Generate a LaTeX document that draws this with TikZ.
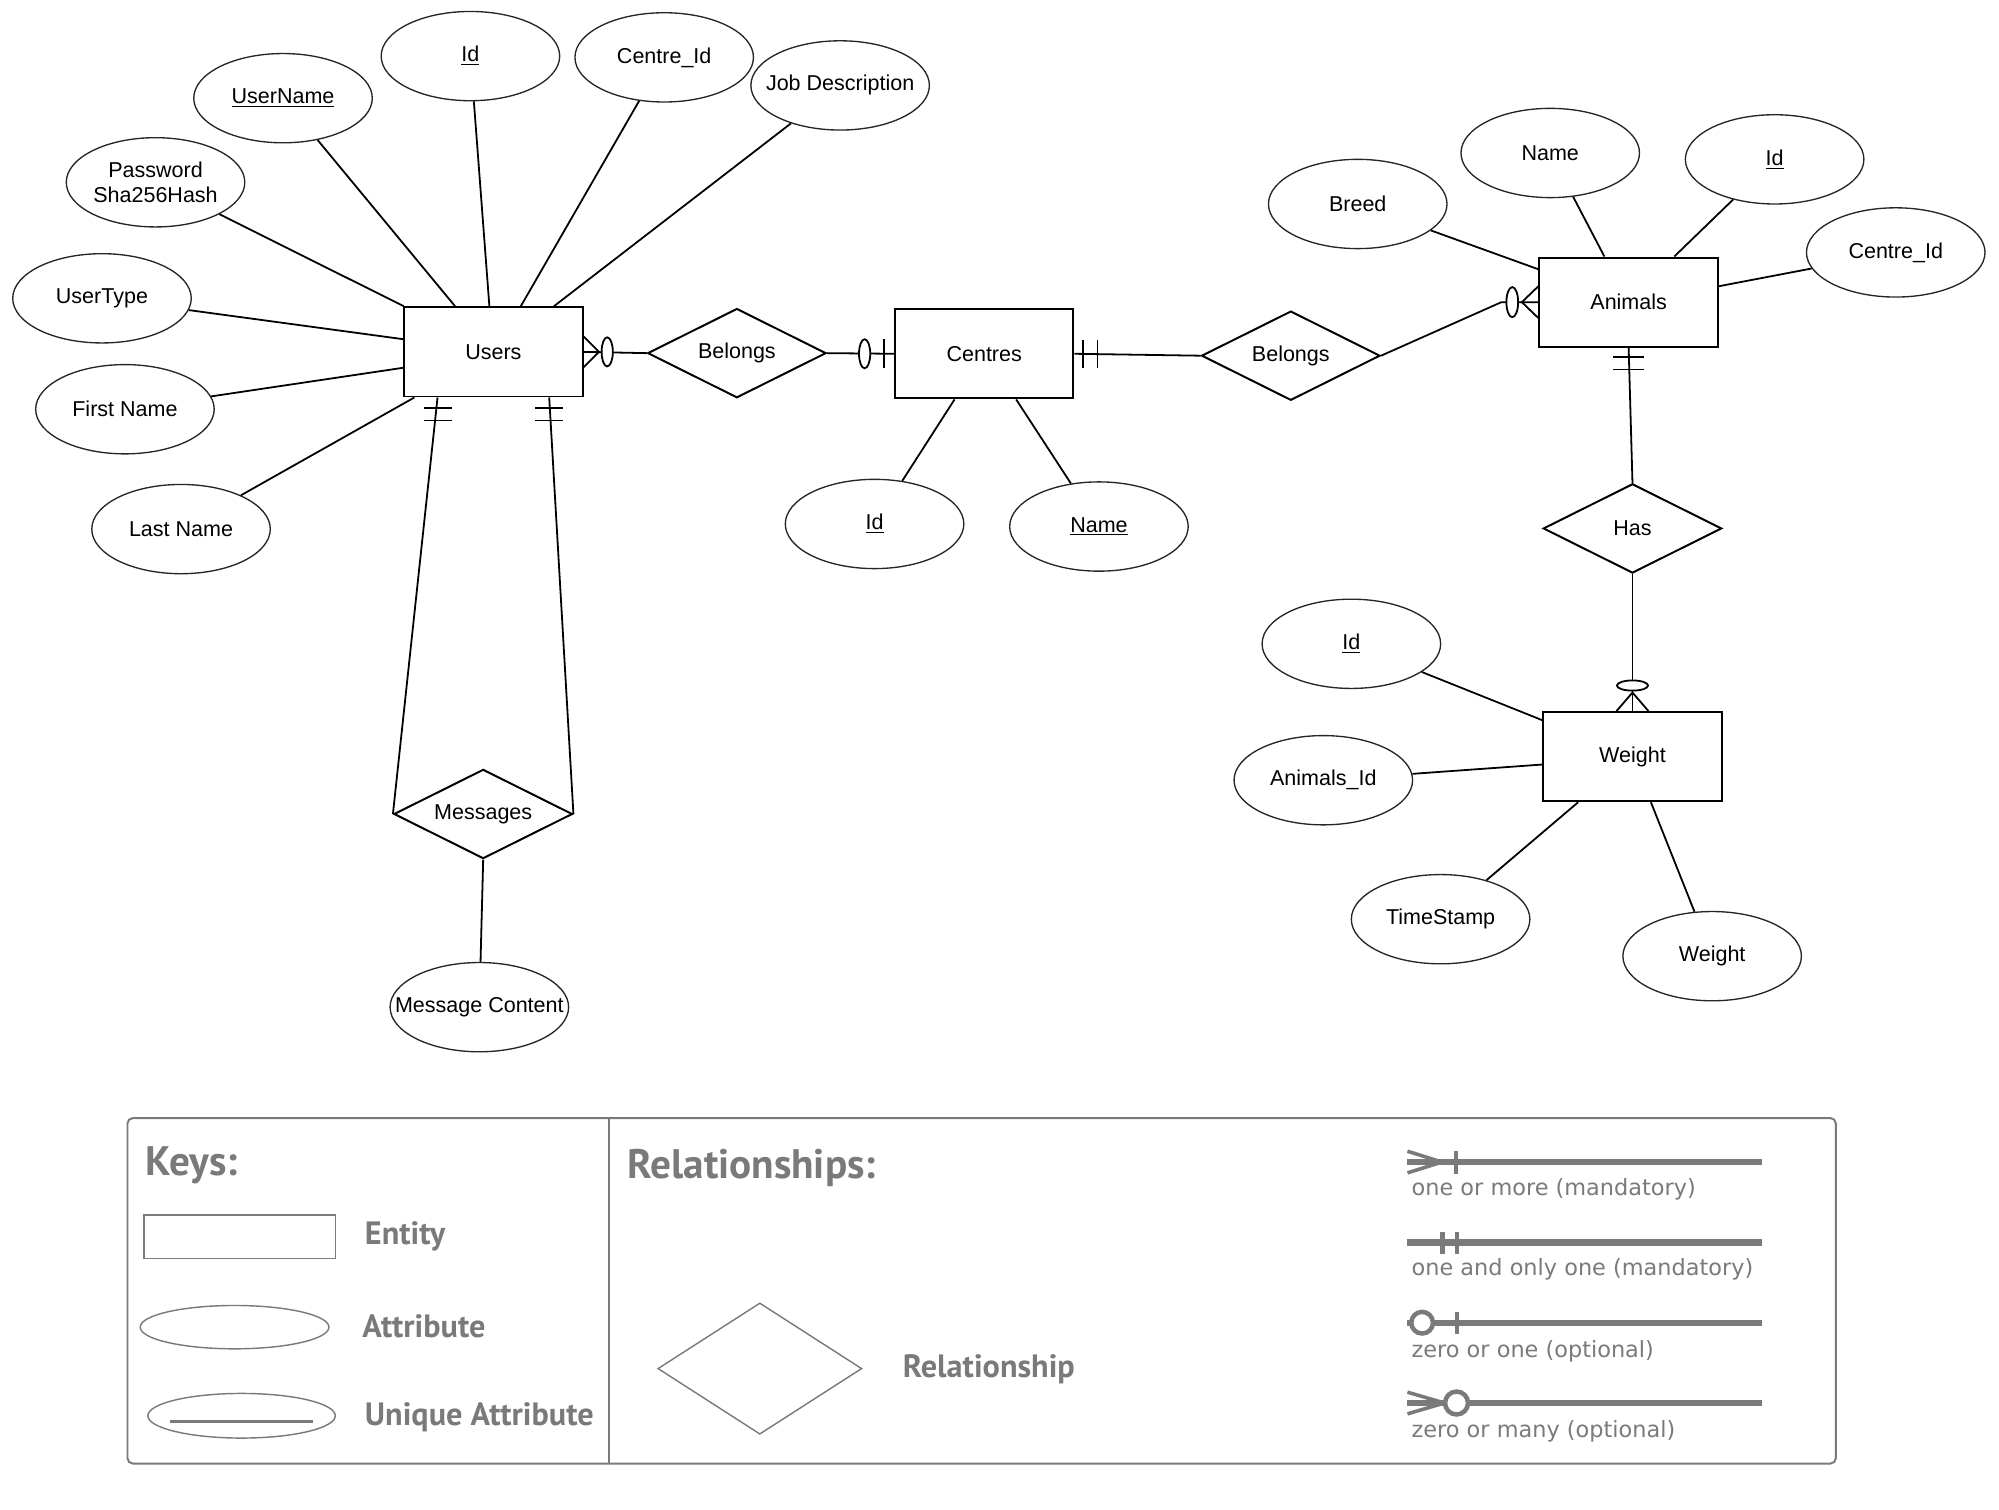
\documentclass[tikz,border=0pt]{standalone}
\usepackage{fontspec}
\setmainfont{Liberation Sans}
\newfontfamily\keyfont{PT Sans}
\newfontfamily\notefont{DejaVu Sans}
\usetikzlibrary{shapes.geometric}
\usetikzlibrary{calc}
\definecolor{leyenda}{RGB}{122,122,122}

\begin{document}
\begin{tikzpicture}[x=0.025cm, y=-0.025cm, every node/.style={font=\fontsize{12}{13.5}\selectfont},
    entidad/.style={draw, line width=1.1pt, minimum width=3.5cm, minimum height=1.75cm},
    atributo/.style={draw=black!85, ellipse, line width=0.75pt, minimum width=3.5cm, minimum height=1.75cm, inner xsep=-0.5cm, inner ysep=0pt, align=center},
    relacion/.style={draw, diamond, aspect=2, line width=1.1pt, minimum width=3.5cm, minimum height=1.75cm, inner sep=0pt},
    arista/.style={line width=1pt},
    ley/.style={text=leyenda, inner sep=0pt, anchor=west, font=\keyfont\bfseries\fontsize{18}{21}\selectfont},
    nota/.style={text=leyenda, inner sep=0pt, anchor=west, font=\notefont\fontsize{12.5}{14}\selectfont}]
    \useasboundingbox (0,0) rectangle (1568,1184);

    % Entidades
    \node[entidad] (usr) at (387,276) {Users};
    \node[entidad] (cen) at (772,277.5) {Centres};
    \node[entidad] (ani) at (1277.5,237) {Animals};
    \node[entidad] (wgt) at (1280.5,593.5) {Weight};

    % Relaciones
    \node[relacion] (bel1) at (578,277) {Belongs};
    \node[relacion] (bel2) at (1012.5,279) {Belongs};
    \node[relacion] (has) at (1280.5,414.5) {Has};
    \node[relacion] (msg) at (379,638.5) {Messages};

    % Atributos
    \node[atributo] (uid) at (369,44) {\underline{Id}};
    \node[atributo] (uname) at (222,77) {\underline{UserName}};
    \node[atributo] (ucid) at (521,45) {Centre\_Id};
    \node[atributo] (ujob) at (659,67) {Job Description};
    \node[atributo] (upass) at (122,143) {Password\\Sha256Hash};
    \node[atributo] (utype) at (80,234) {UserType};
    \node[atributo] (ufirst) at (98,321) {First Name};
    \node[atributo] (ulast) at (142,415) {Last Name};
    \node[atributo] (cid) at (686,411) {\underline{Id}};
    \node[atributo] (cname) at (862,413) {\underline{Name}};
    \node[atributo] (abreed) at (1065,160) {Breed};
    \node[atributo] (aname) at (1216,120) {Name};
    \node[atributo] (aid) at (1392,125) {\underline{Id}};
    \node[atributo] (acid) at (1487,198) {Centre\_Id};
    \node[atributo] (wid) at (1060,505) {\underline{Id}};
    \node[atributo] (waid) at (1038,612) {Animals\_Id};
    \node[atributo] (wtime) at (1130,721) {TimeStamp};
    \node[atributo] (wval) at (1343,750) {Weight};
    \node[atributo] (mtext) at (376,790) {Message Content};

    % Aristas de atributos
    \draw[arista] (uid) -- (usr.95);
    \draw[arista] (uname) -- (usr.130);
    \draw[arista] (ucid) -- (usr.59);
    \draw[arista] (ujob) -- (usr.37);
    \draw[arista] (upass) -- (usr.153);
    \draw[arista] (utype) -- (usr.172);
    \draw[arista] (ufirst) -- (usr.190);
    \draw[arista] (ulast) -- (usr.210);
    \draw[arista] (cid) -- (cen.237);
    \draw[arista] (cname) -- (cen.305);
    \draw[arista] (abreed) -- (ani.160);
    \draw[arista] (aname) -- (ani.118);
    \draw[arista] (aid) -- (ani.45);
    \draw[arista] (acid) -- (ani.10);
    \draw[arista] (wid) -- (wgt.158);
    \draw[arista] (waid) -- (wgt.185);
    \draw[arista] (wtime) -- (wgt.220);
    \draw[arista] (wval) -- (wgt.292);
    \draw[arista] (msg.south) -- (mtext);

    % Aristas de relaciones
    \draw[arista] (usr.east) -- (bel1.west);
    \draw[arista] ($(usr.east)+(0,-12)$) -- ($(usr.east)+(12,0)$) -- ($(usr.east)+(0,12)$);
    \draw[arista, fill=white] ($(usr.east)+(18.5,0)$) ellipse [x radius=0.11cm, y radius=0.285cm];
    \draw[arista] (bel1.east) -- (cen.west);
    \draw[arista, fill=white] ($(cen.west)+(-23,0)$) ellipse [x radius=0.11cm, y radius=0.285cm];
    \draw[arista] ($(cen.west)+(-8,-11.5)$) -- ($(cen.west)+(-8,11.5)$);
    \draw[arista] (cen.east) -- (bel2.west);
    \foreach \d in {7,18}
        \draw[arista] ($(cen.east)+(\d,-11)$) -- ($(cen.east)+(\d,11)$);
    \draw[arista] (bel2.east) -- ($(ani.west)+(-29,0)$) -- (ani.west);
    \draw[arista] ($(ani.west)+(0,-12.5)$) -- ($(ani.west)+(-13,0)$) -- ($(ani.west)+(0,12.5)$);
    \draw[arista, fill=white] ($(ani.west)+(-20.5,0)$) ellipse [x radius=0.115cm, y radius=0.295cm];
    \draw[arista] (ani.south) -- (has.north);
    \foreach \d in {7,17}
        \draw[arista] ($(ani.south)+(-12,\d)$) -- ($(ani.south)+(12,\d)$);
    \draw[arista] (has.south) -- (wgt.north);
    \draw[arista] ($(wgt.north)+(-12.5,0)$) -- ($(wgt.north)+(0,-14.5)$) -- ($(wgt.north)+(12.5,0)$);
    \draw[arista, fill=white] ($(wgt.north)+(0,-20)$) ellipse [x radius=0.305cm, y radius=0.1cm];
    \draw[arista] ($(usr.south west)+(27,0)$) -- (msg.west);
    \draw[arista] ($(usr.south east)+(-27,0)$) -- (msg.east);
    \foreach \d in {8,18} {
        \draw[arista] ($(usr.south west)+(16,\d)$) -- ($(usr.south west)+(38,\d)$);
        \draw[arista] ($(usr.south east)+(-38,\d)$) -- ($(usr.south east)+(-16,\d)$);
    }

    % Leyenda
    \draw[leyenda, line width=1.1pt, rounded corners=3pt] (100,877) rectangle (1440,1148);
    \draw[leyenda, line width=1.1pt] (478,877) -- (478,1148);
    \node[ley, font=\keyfont\bfseries\fontsize{23}{26}\selectfont] (keys) at (114,914) {Keys:};
    \node[ley, font=\keyfont\bfseries\fontsize{23}{26}\selectfont] (rels) at (492,916) {Relationships:};
    \node[draw=leyenda, line width=0.8pt, minimum width=3.75cm, minimum height=0.85cm] (lent) at (188,970) {};
    \node[draw=leyenda, ellipse, line width=0.8pt, minimum width=3.7cm, minimum height=0.85cm, inner sep=0pt] (latr) at (184,1041) {};
    \node[draw=leyenda, ellipse, line width=0.8pt, minimum width=3.675cm, minimum height=0.875cm, inner sep=0pt] (luni) at (189.5,1110.5) {};
    \draw[leyenda, line width=1.2pt] ($(luni.center)+(-56,4.5)$) -- ($(luni.center)+(56,4.5)$);
    \node[ley] (tent) at (286,970) {Entity};
    \node[ley] (tatr) at (284,1040) {Attribute};
    \node[ley] (tuni) at (286,1112) {Unique Attribute};
    \node[draw=leyenda, diamond, line width=0.8pt, minimum width=4cm, minimum height=2.575cm, inner sep=0pt] (lrel) at (596,1073.5) {};
    \node[ley] (trel) at (708,1074) {Relationship};

    \foreach \y in {911.5,974.5,1037.5,1100.5}
        \draw[leyenda, line width=3.5pt] (1104,\y) -- (1382,\y);
    \draw[leyenda, line width=2pt] (1104,903) -- (1131,911.5) -- (1104,920);
    \draw[leyenda, line width=2.5pt] (1142,903) -- (1142,920.5);
    \draw[leyenda, line width=2.5pt] (1131.5,966.5) -- (1131.5,983.5);
    \draw[leyenda, line width=2.5pt] (1143,966.5) -- (1143,983.5);
    \draw[leyenda, line width=2.5pt, fill=white] (1115.5,1037.5) circle [radius=0.2125cm];
    \draw[leyenda, line width=2.5pt] (1143,1029) -- (1143,1046);
    \draw[leyenda, line width=2pt] (1104,1092) -- (1133,1100.5) -- (1104,1109);
    \draw[leyenda, line width=2.5pt, fill=white] (1142.5,1100.5) circle [radius=0.225cm];
    \node[nota] (n1) at (1107,933) {one or more (mandatory)};
    \node[nota] (n2) at (1107,996) {one and only one (mandatory)};
    \node[nota] (n3) at (1107,1060) {zero or one (optional)};
    \node[nota] (n4) at (1107,1123) {zero or many (optional)};
\end{tikzpicture}
\end{document}
